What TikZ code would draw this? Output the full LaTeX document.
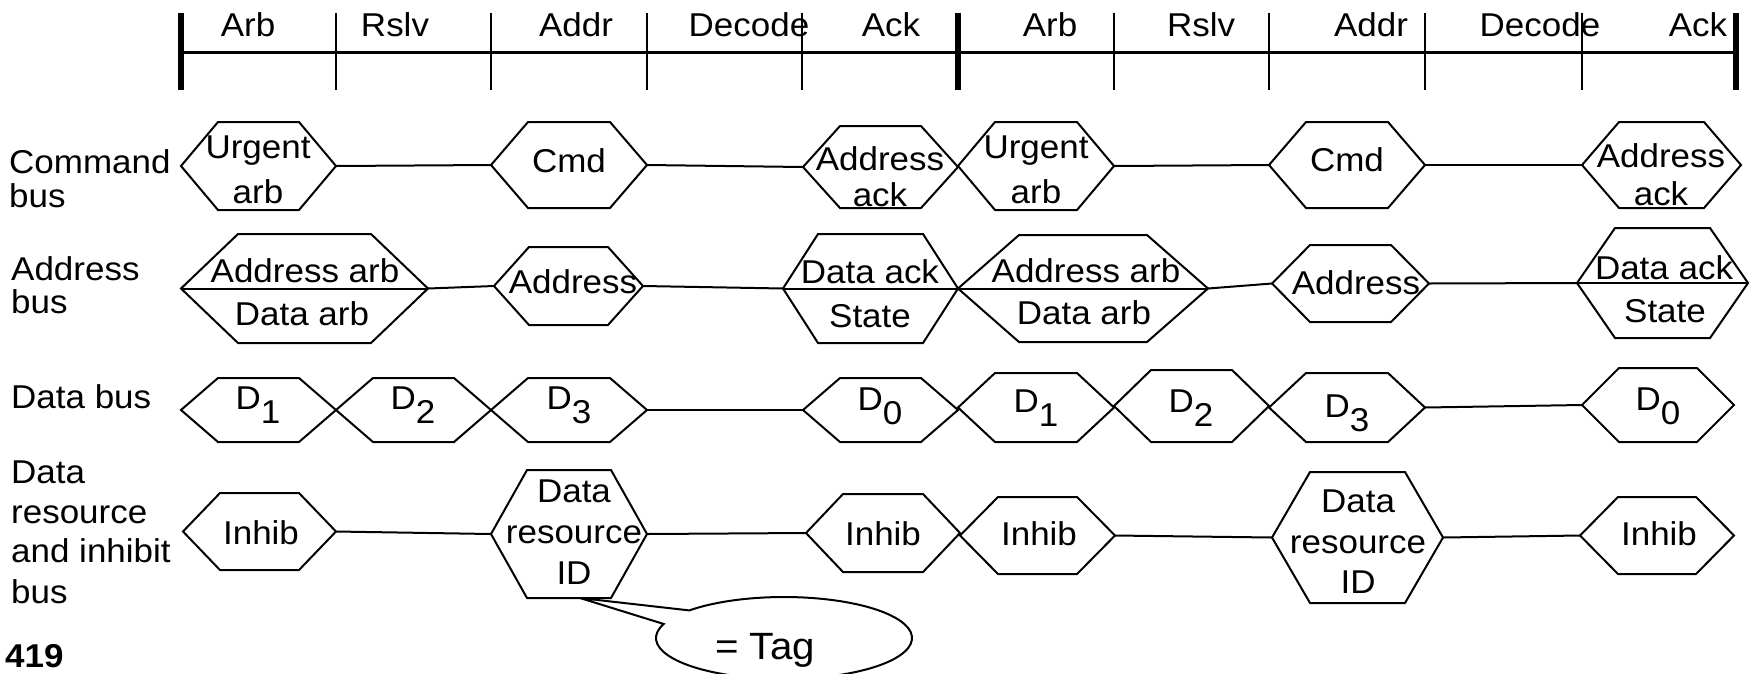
\documentclass[tikz,border=0pt]{standalone}
\usepackage{fontspec}
\setmainfont{Liberation Sans}[FakeStretch=1.06]
\usetikzlibrary{calc}
\tikzset{
  hexnode/.style={inner sep=0pt, outer sep=0pt},
  hexline/.style={line width=2pt, line join=miter},
  bus/.style={line width=2pt},
  txt/.style={inner sep=0pt, anchor=base, font=\fontsize{33}{38}\selectfont},
  rowlbl/.style={inner sep=0pt, anchor=base west, font=\fontsize{33}{38}\selectfont},
  thickbar/.style={line width=6pt},
  tickline/.style={line width=2pt},
  axisline/.style={line width=3pt},
}
% name, x left point, x right point, y top, y bottom, slant
\newcommand\myhex[6]{%
  \node[hexnode, minimum width={#3-#2}, minimum height={#5-#4}] (#1) at ({(#2+#3)/2},{(#4+#5)/2}) {};
  \draw[hexline] (#1.west) -- ([xshift=#6pt]#1.north west) -- ([xshift=-#6pt]#1.north east)
    -- (#1.east) -- ([xshift=-#6pt]#1.south east) -- ([xshift=#6pt]#1.south west) -- cycle;}
\newcommand\Dsub[1]{D\raisebox{-14pt}{#1}}
\begin{document}
\begin{tikzpicture}[x=1pt,y=-1pt]
\path[use as bounding box, fill=white] (0,0) rectangle (1750,673);

% ---------- time scale ----------
\draw[axisline] (181,52) -- (1736,52);
\foreach \x in {181,958,1736} \draw[thickbar] (\x,13) -- (\x,90);
\foreach \x in {336,491,647,802,1114,1269,1425,1582} \draw[tickline] (\x,13) -- (\x,90);
\node[txt] (h1) at (248,36) {Arb};
\node[txt] (h2) at (395,36) {Rslv};
\node[txt] (h3) at (576,36) {Addr};
\node[txt] (h4) at (749,36) {Decode};
\node[txt] (h5) at (891,36) {Ack};
\node[txt] (h6) at (1050,36) {Arb};
\node[txt] (h7) at (1201,36) {Rslv};
\node[txt] (h8) at (1371,36) {Addr};
\node[txt] (h9) at (1540,36) {Decode};
\node[txt] (h10) at (1698,36) {Ack};

% ---------- row labels ----------
\node[rowlbl] (l1a) at (9,173) {Command};
\node[rowlbl] (l1b) at (9,207) {bus};
\node[rowlbl] (l2a) at (11,280) {Address};
\node[rowlbl] (l2b) at (11,313) {bus};
\node[rowlbl] (l3a) at (11,408) {Data bus};
\node[rowlbl] (l4a) at (11,483) {Data};
\node[rowlbl] (l4b) at (11,523) {resource};
\node[rowlbl] (l4c) at (11,562) {and inhibit};
\node[rowlbl] (l4d) at (11,603) {bus};
\node[rowlbl, font=\fontsize{33}{38}\selectfont\bfseries] (num) at (5,667) {419};

% ---------- command bus ----------
\myhex{C1}{181}{336}{122}{210}{37}
\myhex{C2}{491}{647}{122}{208}{37}
\myhex{C3}{803}{958}{126}{208}{37}
\myhex{C4}{958}{1114}{122}{210}{37}
\myhex{C5}{1269}{1425}{122}{208}{37}
\myhex{C6}{1582}{1741}{122}{208}{37}
\draw[bus] (C1.east) -- (C2.west);
\draw[bus] (C2.east) -- (C3.west);
\draw[bus] (C4.east) -- (C5.west);
\draw[bus] (C5.east) -- (C6.west);
\node[txt] (tC1a) at (258,158) {Urgent};
\node[txt] (tC1b) at (258,203) {arb};
\node[txt] (tC2) at (569,172) {Cmd};
\node[txt] (tC3a) at (880,170) {Address};
\node[txt] (tC3b) at (880,206) {ack};
\node[txt] (tC4a) at (1036,158) {Urgent};
\node[txt] (tC4b) at (1036,203) {arb};
\node[txt] (tC5) at (1347,171) {Cmd};
\node[txt] (tC6a) at (1661,167) {Address};
\node[txt] (tC6b) at (1661,205) {ack};

% ---------- address bus ----------
\myhex{A1}{181}{428}{234}{343}{57}
\myhex{A2}{494}{643}{247}{325}{35}
\myhex{A3}{783}{958}{234}{343}{35}
\myhex{A4}{958}{1208}{235}{342}{61}
\myhex{A5}{1272}{1429}{245}{322}{38}
\myhex{A6}{1577}{1748}{228}{338}{38}
\draw[hexline] (A1.west) -- (A1.east);
\draw[hexline] (A3.west) -- (A3.east);
\draw[hexline] (A4.west) -- (A4.east);
\draw[hexline] (A6.west) -- (A6.east);
\draw[bus] (A1.east) -- (A2.west);
\draw[bus] (A2.east) -- (A3.west);
\draw[bus] (A4.east) -- (A5.west);
\draw[bus] (A5.east) -- (A6.west);
\node[txt] (tA1a) at (305,282) {Address arb};
\node[txt] (tA1b) at (302,325) {Data arb};
\node[txt] (tA2) at (573,293) {Address};
\node[txt] (tA3a) at (870,283) {Data ack};
\node[txt] (tA3b) at (870,327) {State};
\node[txt] (tA4a) at (1086,282) {Address arb};
\node[txt] (tA4b) at (1084,324) {Data arb};
\node[txt] (tA5) at (1356,294) {Address};
\node[txt] (tA6a) at (1664,279) {Data ack};
\node[txt] (tA6b) at (1665,322) {State};

% ---------- data bus ----------
\myhex{D1}{181}{336}{378}{442}{37}
\myhex{D2}{336}{491}{378}{442}{37}
\myhex{D3}{491}{647}{378}{442}{37}
\myhex{D4}{803}{958}{378}{442}{37}
\myhex{D5}{958}{1114}{373}{442}{37}
\myhex{D6}{1114}{1269}{370}{442}{37}
\myhex{D7}{1269}{1425}{373}{442}{37}
\myhex{D8}{1582}{1734}{368}{442}{37}
\draw[bus] (D3.east) -- (D4.west);
\draw[bus] (D7.east) -- (D8.west);
\node[txt] (tD1) at (258,409) {\Dsub{1}};
\node[txt] (tD2) at (413,409) {\Dsub{2}};
\node[txt] (tD3) at (569,409) {\Dsub{3}};
\node[txt] (tD4) at (880,410) {\Dsub{0}};
\node[txt] (tD5) at (1036,412) {\Dsub{1}};
\node[txt] (tD6) at (1191,412) {\Dsub{2}};
\node[txt] (tD7) at (1347,417) {\Dsub{3}};
\node[txt] (tD8) at (1658,410) {\Dsub{0}};

% ---------- data resource and inhibit bus ----------
\myhex{I1}{183}{336}{493}{570}{37}
\myhex{I2}{491}{647}{470}{598}{36}
\myhex{I3}{806}{960}{494}{572}{37}
\myhex{I4}{960}{1115}{497}{574}{38}
\myhex{I5}{1272}{1443}{472}{603}{38}
\myhex{I6}{1580}{1734}{497}{574}{38}
\draw[bus] (I1.east) -- (I2.west);
\draw[bus] (I2.east) -- (I3.west);
\draw[bus] (I4.east) -- (I5.west);
\draw[bus] (I5.east) -- (I6.west);
\node[txt] (tI1) at (261,544) {Inhib};
\node[txt] (tI2a) at (574,502) {Data};
\node[txt] (tI2b) at (574,543) {resource};
\node[txt] (tI2c) at (574,584) {ID};
\node[txt] (tI3) at (883,545) {Inhib};
\node[txt] (tI4) at (1039,545) {Inhib};
\node[txt] (tI5a) at (1358,512) {Data};
\node[txt] (tI5b) at (1358,553) {resource};
\node[txt] (tI5c) at (1358,593) {ID};
\node[txt] (tI6) at (1659,545) {Inhib};

% ---------- callout ----------
\coordinate (tip) at ([xshift=11pt]I2.south);
\coordinate (ell) at (784,638);
\draw[hexline, fill=white] (tip) -- ($(ell)+(200:128 and 41)$)
  arc[start angle=200, end angle=-137.7, x radius=128, y radius=41] -- cycle;
\node[txt, font=\fontsize{38}{42}\selectfont] (tag) at (765,659) {= Tag};
\end{tikzpicture}
\end{document}
